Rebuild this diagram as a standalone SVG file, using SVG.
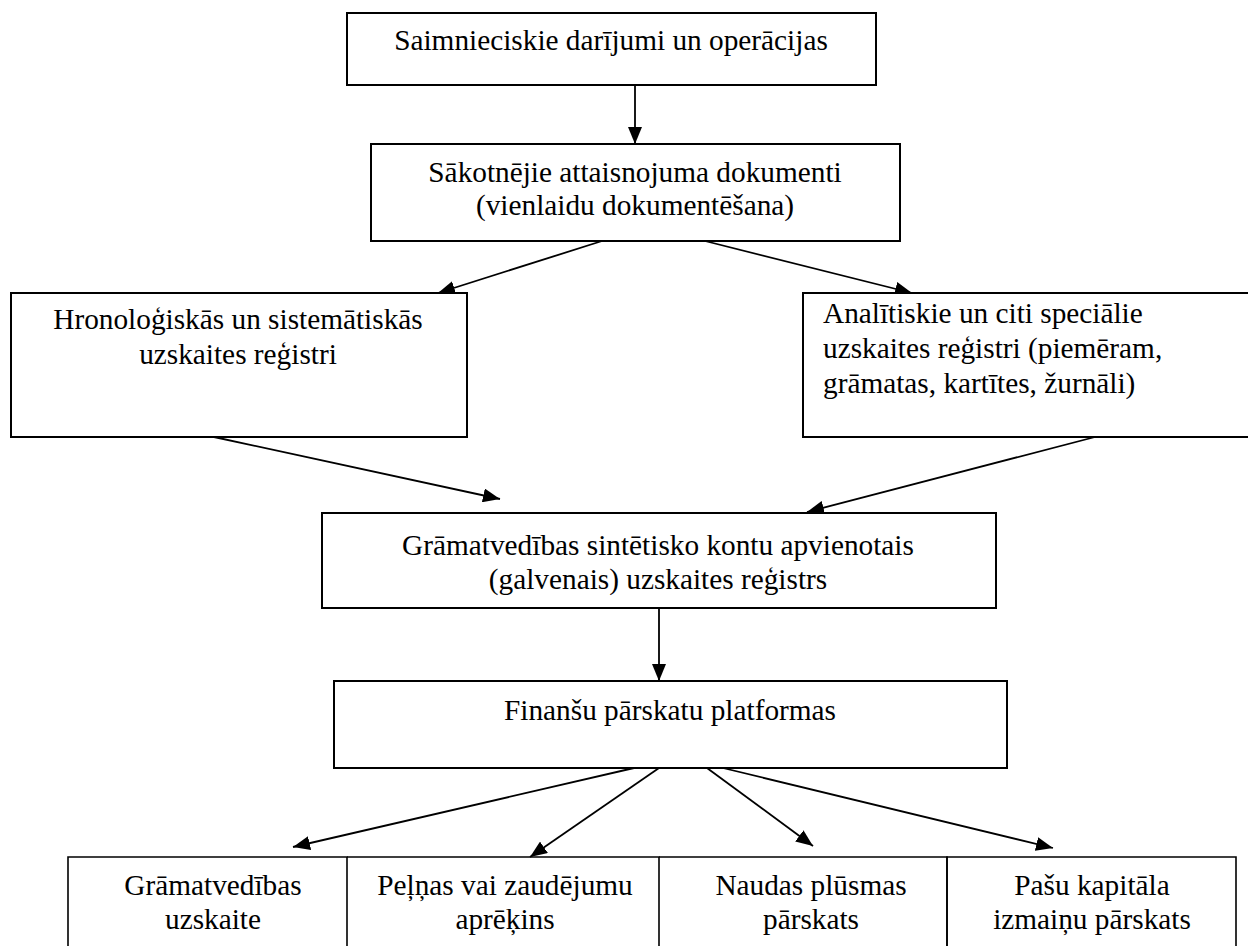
<svg xmlns="http://www.w3.org/2000/svg" width="1248" height="946" viewBox="0 0 1248 946">
<style>
.box{fill:#fff;stroke:#000;stroke-width:2}
.cell{fill:none;stroke:#000;stroke-width:1.6}
.t{font-family:"Liberation Serif","Times New Roman",serif;font-size:29.3px;fill:#000}
.c{text-anchor:middle}
.con{stroke:#000;stroke-width:1.8;fill:none;marker-end:url(#ah)}
</style>
<defs>
<marker id="ah" markerUnits="userSpaceOnUse" markerWidth="17" markerHeight="14" refX="17" refY="7" orient="auto">
<path d="M0,0 L17,7 L0,14 z" fill="#000"/>
</marker>
</defs>
<rect width="1248" height="946" fill="#fff"/>
<g id="connectors">
<line class="con" x1="635" y1="85" x2="635" y2="144"/>
<line class="con" x1="602" y1="241" x2="438" y2="293"/>
<line class="con" x1="705" y1="241" x2="912" y2="293"/>
<line class="con" x1="214" y1="437" x2="500" y2="499"/>
<line class="con" x1="1095" y1="437" x2="807" y2="512"/>
<line class="con" x1="659" y1="608" x2="659" y2="681"/>
<line class="con" x1="634" y1="768" x2="293" y2="847"/>
<line class="con" x1="659" y1="768" x2="530" y2="857"/>
<line class="con" x1="707" y1="768" x2="813" y2="846"/>
<line class="con" x1="723" y1="768" x2="1053" y2="848"/>
</g>
<g id="n1">
<rect class="box" x="347" y="13" width="529" height="72"/>
<text class="t c" x="611" y="50">Saimnieciskie darījumi un operācijas</text>
</g>
<g id="n2">
<rect class="box" x="371" y="144" width="529" height="97"/>
<text class="t c" x="635" y="182">Sākotnējie attaisnojuma dokumenti</text>
<text class="t c" x="635" y="215">(vienlaidu dokumentēšana)</text>
</g>
<g id="n3">
<rect class="box" x="11" y="293" width="456" height="144"/>
<text class="t c" x="238" y="329">Hronoloģiskās un sistemātiskās</text>
<text class="t c" x="238" y="364">uzskaites reģistri</text>
</g>
<g id="n4">
<rect class="box" x="803" y="293" width="460" height="144"/>
<text class="t" x="823" y="323">Analītiskie un citi speciālie</text>
<text class="t" x="823" y="358">uzskaites reģistri (piemēram,</text>
<text class="t" x="823" y="393">grāmatas, kartītes, žurnāli)</text>
</g>
<g id="n5">
<rect class="box" x="322" y="513" width="674" height="95"/>
<text class="t c" x="658" y="555">Grāmatvedības sintētisko kontu apvienotais</text>
<text class="t c" x="658" y="589">(galvenais) uzskaites reģistrs</text>
</g>
<g id="n6">
<rect class="box" x="334" y="681" width="673" height="87"/>
<text class="t c" x="670" y="720">Finanšu pārskatu platformas</text>
</g>
<g id="n7">
<path class="cell" d="M68,946 V857 H347 V946"/>
<text class="t c" x="213" y="895">Grāmatvedības</text>
<text class="t c" x="213" y="929">uzskaite</text>
</g>
<g id="n8">
<path class="cell" d="M347,857 H659 V946"/>
<text class="t c" x="505" y="895">Peļņas vai zaudējumu</text>
<text class="t c" x="505" y="929">aprēķins</text>
</g>
<g id="n9">
<path class="cell" d="M659,857 H947 V946"/>
<text class="t c" x="811" y="895">Naudas plūsmas</text>
<text class="t c" x="811" y="929">pārskats</text>
</g>
<g id="n10">
<path class="cell" d="M947,946 V857 H1236 V946"/>
<text class="t c" x="1092" y="895">Pašu kapitāla</text>
<text class="t c" x="1092" y="929">izmaiņu pārskats</text>
</g>
</svg>
